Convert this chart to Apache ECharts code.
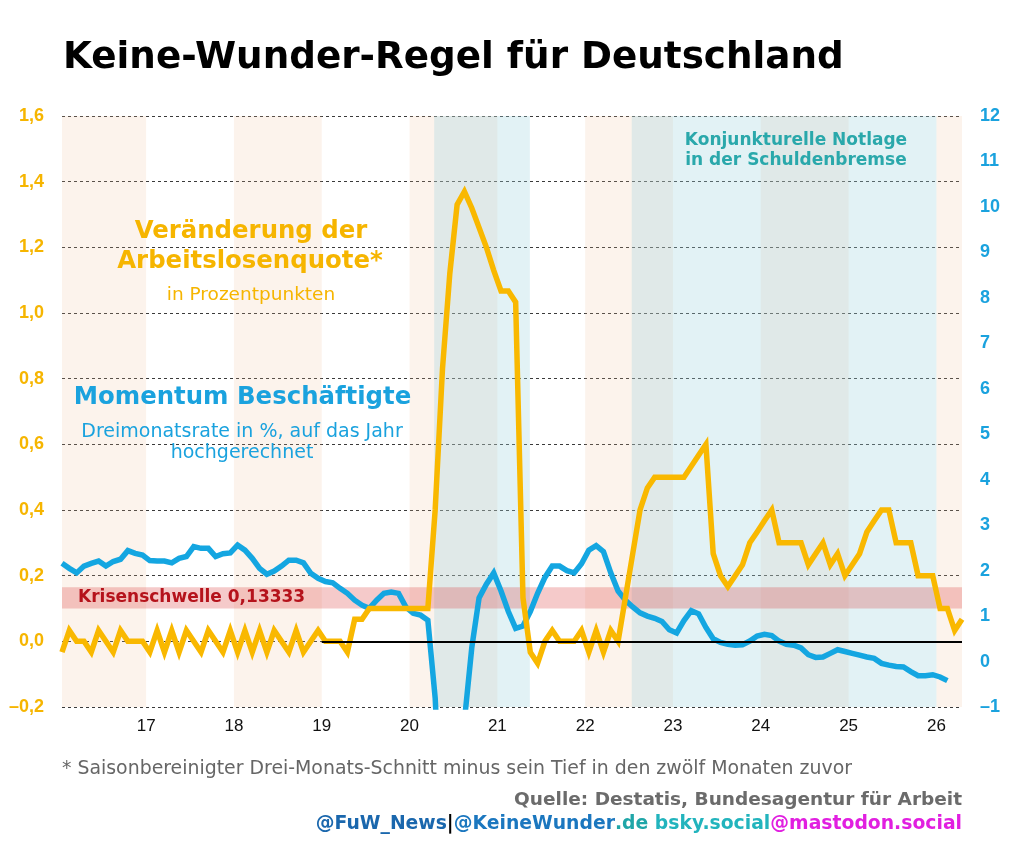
<!DOCTYPE html>
<html>
<head>
<meta charset="utf-8">
<script src="https://cdn.jsdelivr.net/npm/echarts@6/dist/echarts.min.js"></script>
<style>
html,body{margin:0;padding:0;background:#ffffff;}
#chart{width:1024px;height:853px;}
</style>
</head>
<body>
<div id="chart"></div>
<script>
// ---- data (monthly, first value = January 2016) ----
const startYear = 2016;
const xTickYears = [2017, 2018, 2019, 2020, 2021, 2022, 2023, 2024, 2025, 2026];
const leftTicks = [-0.2, 0, 0.2, 0.4, 0.6, 0.8, 1.0, 1.2, 1.4, 1.6];
const rightTicks = [-1, 0, 1, 2, 3, 4, 5, 6, 7, 8, 9, 10, 11, 12];

// Veränderung der Arbeitslosenquote (left axis, Prozentpunkte)
const unemploymentChange = [
  -0.033, 0.033, 0, 0, -0.033, 0.033, 0, -0.033, 0.033, 0,
  0, 0, -0.033, 0.033, -0.033, 0.033, -0.033, 0.033, 0, -0.033,
  0.033, 0, -0.033, 0.033, -0.033, 0.033, -0.033, 0.033, -0.033, 0.033,
  0, -0.033, 0.033, -0.033, 0, 0.033, 0, 0, 0, -0.033,
  0.067, 0.067, 0.1, 0.1, 0.1, 0.1, 0.1, 0.1, 0.1, 0.1,
  0.1, 0.4, 0.83, 1.12, 1.33, 1.37, 1.32, 1.26, 1.2, 1.13,
  1.067, 1.067, 1.033, 0.133, -0.033, -0.067, 0, 0.033, 0, 0,
  0, 0.033, -0.033, 0.033, -0.033, 0.033, 0, 0.133, 0.267, 0.4,
  0.467, 0.5, 0.5, 0.5, 0.5, 0.5, 0.533, 0.567, 0.6, 0.267,
  0.2, 0.167, 0.2, 0.233, 0.3, 0.333, 0.367, 0.4, 0.3, 0.3,
  0.3, 0.3, 0.233, 0.267, 0.3, 0.233, 0.267, 0.2, 0.233, 0.267,
  0.333, 0.367, 0.4, 0.4, 0.3, 0.3, 0.3, 0.2, 0.2, 0.2,
  0.1, 0.1, 0.033, 0.067
];

// Momentum Beschäftigte (right axis, % annualisiert)
const employmentMomentum = [
  2.16, 2.05, 1.95, 2.1, 2.16, 2.21, 2.1, 2.2, 2.25, 2.44,
  2.38, 2.34, 2.22, 2.21, 2.21, 2.17, 2.27, 2.31, 2.53, 2.49,
  2.49, 2.31, 2.37, 2.39, 2.56, 2.45, 2.27, 2.05, 1.92, 1.99,
  2.1, 2.23, 2.23, 2.17, 1.94, 1.83, 1.76, 1.73, 1.61, 1.5,
  1.35, 1.24, 1.17, 1.35, 1.5, 1.53, 1.5, 1.2, 1.06, 1.02,
  0.91, -0.8, -4, -5, -3, -1.3, 0.3, 1.4, 1.7, 1.95,
  1.55, 1.1, 0.73, 0.78, 1.1, 1.5, 1.85, 2.1, 2.1, 2.0,
  1.95, 2.15, 2.45, 2.55, 2.42, 1.95, 1.55, 1.35, 1.2, 1.07,
  1.0, 0.95, 0.88, 0.7, 0.63, 0.9, 1.12, 1.05, 0.75, 0.5,
  0.42, 0.38, 0.36, 0.37, 0.45, 0.56, 0.6, 0.57, 0.45, 0.38,
  0.36, 0.3, 0.15, 0.09, 0.1, 0.18, 0.26, 0.22, 0.18, 0.14,
  0.1, 0.07, -0.04, -0.08, -0.11, -0.12, -0.22, -0.31, -0.31, -0.29,
  -0.34, -0.42
];

const shadedYears = [2016, 2018, 2020, 2022, 2024, 2026];
const notlagePeriods = [[2020.28, 2021.37], [2022.53, 2026.0]];
const crisisBand = [0.1, 0.165];
const crisisLabel = 'Krisenschwelle 0,13333';
const zeroLineStart = 2019;

// ---- helpers ----
const toX = i => startYear + (i + 0.5) / 12;
const xMin = toX(0);
const xMax = toX(unemploymentChange.length - 1);
const fmt = v => {
  const s = Math.abs(v) < 1e-9 ? '0,0' : v.toFixed(1).replace('.', ',');
  return s.replace('-', '\u2013');
};

const YELLOW = '#f9b800';
const YELLOW_TXT = '#f6b500';
const BLUE = '#14a6e1';
const BLUE_TXT = '#1aa2de';
const TEAL = '#2aa8ab';
const SANS = '"DejaVu Sans", Verdana, sans-serif';
const HELV = '"Liberation Sans", Arial, sans-serif';

const chart = echarts.init(document.getElementById('chart'), null, {renderer: 'canvas'});

const clampX = v => Math.max(xMin, Math.min(xMax, v));

const option = {
  animation: false,
  backgroundColor: '#ffffff',
  grid: {left: 62, right: 62, top: 116, bottom: 146, containLabel: false},
  xAxis: {
    type: 'value', min: xMin, max: xMax, z: 1,
    axisLine: {show: false}, axisTick: {show: false}, splitLine: {show: false},
    axisLabel: {
      customValues: xTickYears,
      formatter: v => String(Math.round(v) - 2000),
      color: '#111', fontSize: 17, fontFamily: HELV, margin: 11
    }
  },
  yAxis: [
    {
      type: 'value', min: leftTicks[0], max: leftTicks[leftTicks.length - 1], interval: 0.2, z: 1,
      position: 'left',
      axisLine: {show: false}, axisTick: {show: false},
      splitLine: {show: true, lineStyle: {color: '#3a3a3a', width: 1, type: [3, 3]}},
      axisLabel: {formatter: fmt, color: YELLOW_TXT, fontWeight: 'bold', fontSize: 18, fontFamily: HELV, margin: 18}
    },
    {
      type: 'value', min: rightTicks[0], max: rightTicks[rightTicks.length - 1], interval: 1, z: 1,
      position: 'right',
      axisLine: {show: false}, axisTick: {show: false}, splitLine: {show: false},
      axisLabel: {formatter: v => String(v).replace('-', '\u2013'), color: BLUE_TXT, fontWeight: 'bold', fontSize: 18, fontFamily: HELV, margin: 18}
    }
  ],
  series: [
    {
      name: 'Jahresbänder', type: 'line', data: [], z: 0, silent: true,
      markArea: {
        silent: true,
        itemStyle: {color: 'rgba(240,190,150,0.18)'},
        data: shadedYears.map(y => [{xAxis: clampX(y)}, {xAxis: clampX(y + 1)}])
      }
    },
    {
      name: 'Notlage', type: 'line', data: [], z: 0, silent: true,
      markArea: {
        silent: true,
        itemStyle: {color: 'rgba(160,212,222,0.30)'},
        data: notlagePeriods.map(p => [{xAxis: clampX(p[0])}, {xAxis: clampX(p[1])}])
      }
    },
    {
      name: 'Krisenschwelle', type: 'line', data: [], z: 1.5, silent: true,
      markArea: {
        silent: true,
        itemStyle: {color: 'rgba(215,45,45,0.25)'},
        data: [[{yAxis: crisisBand[0]}, {yAxis: crisisBand[1]}]]
      }
    },
    {
      name: 'Nulllinie', type: 'line', data: [], z: 1.8, silent: true,
      markLine: {
        silent: true, symbol: 'none', label: {show: false},
        lineStyle: {color: '#000', width: 2, type: 'solid'},
        data: [[{coord: [zeroLineStart, 0]}, {coord: [xMax, 0]}]]
      }
    },
    {
      name: 'Momentum Beschäftigte', type: 'line', yAxisIndex: 1, z: 3,
      showSymbol: false, symbol: 'none', clip: true,
      lineStyle: {color: BLUE, width: 5.5, join: 'miter', miterLimit: 6},
      data: employmentMomentum.map((v, i) => [toX(i), v])
    },
    {
      name: 'Veränderung der Arbeitslosenquote', type: 'line', yAxisIndex: 0, z: 4,
      showSymbol: false, symbol: 'none', clip: true,
      lineStyle: {color: YELLOW, width: 5.5, join: 'miter', miterLimit: 6},
      data: unemploymentChange.map((v, i) => [toX(i), v])
    }
  ],
  graphic: [
    {type: 'text', x: 63, y: 58, z: 10, style: {text: 'Keine-Wunder-Regel für Deutschland', fill: '#000', fontSize: 37.3, fontWeight: 'bold', fontFamily: SANS, align: 'left', verticalAlign: 'middle'}},
    {type: 'text', x: 251, y: 232, z: 10, style: {text: 'Veränderung der', fill: YELLOW_TXT, fontSize: 24.4, fontWeight: 'bold', fontFamily: SANS, align: 'center', verticalAlign: 'middle'}},
    {type: 'text', x: 250, y: 262, z: 10, style: {text: 'Arbeitslosenquote*', fill: YELLOW_TXT, fontSize: 24.4, fontWeight: 'bold', fontFamily: SANS, align: 'center', verticalAlign: 'middle'}},
    {type: 'text', x: 251, y: 295, z: 10, style: {text: 'in Prozentpunkten', fill: YELLOW_TXT, fontSize: 18.5, fontFamily: SANS, align: 'center', verticalAlign: 'middle'}},
    {type: 'text', x: 242.5, y: 398, z: 10, style: {text: 'Momentum Beschäftigte', fill: BLUE_TXT, fontSize: 24.4, fontWeight: 'bold', fontFamily: SANS, align: 'center', verticalAlign: 'middle'}},
    {type: 'text', x: 242, y: 432, z: 10, style: {text: 'Dreimonatsrate in %, auf das Jahr', fill: BLUE_TXT, fontSize: 19, fontFamily: SANS, align: 'center', verticalAlign: 'middle'}},
    {type: 'text', x: 242, y: 453, z: 10, style: {text: 'hochgerechnet', fill: BLUE_TXT, fontSize: 19, fontFamily: SANS, align: 'center', verticalAlign: 'middle'}},
    {type: 'text', x: 796, y: 141, z: 10, style: {text: 'Konjunkturelle Notlage', fill: TEAL, fontSize: 17, fontWeight: 'bold', fontFamily: SANS, align: 'center', verticalAlign: 'middle'}},
    {type: 'text', x: 796, y: 161, z: 10, style: {text: 'in der Schuldenbremse', fill: TEAL, fontSize: 17, fontWeight: 'bold', fontFamily: SANS, align: 'center', verticalAlign: 'middle'}},
    {type: 'text', x: 78, y: 598, z: 10, style: {text: crisisLabel, fill: '#b5121b', fontSize: 17, fontWeight: 'bold', fontFamily: SANS, align: 'left', verticalAlign: 'middle'}},
    {type: 'text', x: 62, y: 769, z: 10, style: {text: '* Saisonbereinigter Drei-Monats-Schnitt minus sein Tief in den zwölf Monaten zuvor', fill: '#666', fontSize: 18.9, fontFamily: SANS, align: 'left', verticalAlign: 'middle'}},
    {type: 'text', x: 962, y: 800, z: 10, style: {text: 'Quelle: Destatis, Bundesagentur für Arbeit', fill: '#6b6b6b', fontSize: 18.5, fontWeight: 'bold', fontFamily: SANS, align: 'right', verticalAlign: 'middle'}},
    {type: 'text', x: 962, y: 824, z: 10, style: {
      text: '{a|@FuW_News}{k||}{b|@KeineWunder}{c|.de}{d| bsky.social}{e|@mastodon.social}',
      fontSize: 18.8, fontWeight: 'bold', fontFamily: SANS, align: 'right', verticalAlign: 'middle',
      rich: {
        a: {fill: '#1a67ad', color: '#1a67ad', fontSize: 18.8, fontWeight: 'bold', fontFamily: SANS},
        k: {fill: '#000', color: '#000', fontSize: 18.8, fontWeight: 'bold', fontFamily: SANS},
        b: {fill: '#1b77bf', color: '#1b77bf', fontSize: 18.8, fontWeight: 'bold', fontFamily: SANS},
        c: {fill: '#20a6a8', color: '#20a6a8', fontSize: 18.8, fontWeight: 'bold', fontFamily: SANS},
        d: {fill: '#22b4bd', color: '#22b4bd', fontSize: 18.8, fontWeight: 'bold', fontFamily: SANS},
        e: {fill: '#e11fe0', color: '#e11fe0', fontSize: 18.8, fontWeight: 'bold', fontFamily: SANS}
      }
    }}
  ]
};

chart.setOption(option);
</script>
</body>
</html>
